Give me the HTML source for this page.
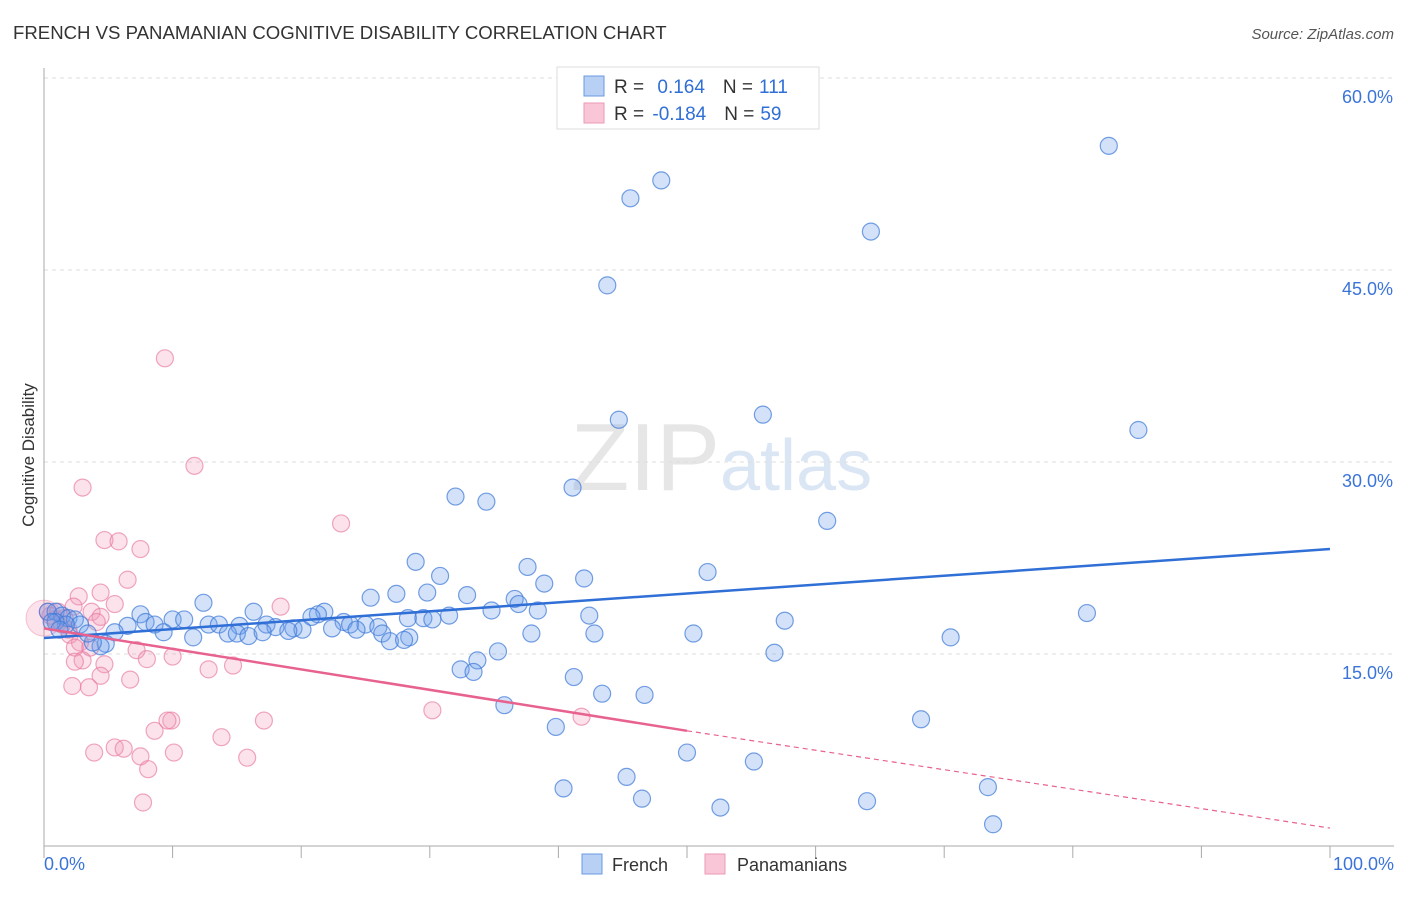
<!DOCTYPE html>
<html><head><meta charset="utf-8"><style>
body{margin:0;background:#fff;font-family:"Liberation Sans",sans-serif;}
svg text{font-family:"Liberation Sans",sans-serif;}
</style></head><body>
<svg id="chart" width="1406" height="892">
<text x="13" y="39" font-size="18.6" fill="#333">FRENCH VS PANAMANIAN COGNITIVE DISABILITY CORRELATION CHART</text>
<text x="1394" y="39" font-size="15" fill="#555" font-style="italic" text-anchor="end">Source: ZipAtlas.com</text>
<text x="720" y="490" font-size="96" fill="#e6e6e6" text-anchor="end" font-family="Liberation Serif">ZIP</text>
<text x="720" y="490" font-size="72" fill="#dbe6f5">atlas</text>
<g id="grid"></g>
<g id="axes"></g>
<g id="pts"></g>
<g id="trend"></g>
<text transform="translate(34,455) rotate(-90)" font-size="17" fill="#333" text-anchor="middle">Cognitive Disability</text>
<g>
<rect x="557" y="67" width="262" height="62" fill="#fff" stroke="#ddd"/>
<rect x="584" y="76" width="20" height="20" fill="#b8d0f3" stroke="#6a9ae0"/>
<rect x="584" y="103" width="20" height="20" fill="#f8c6d6" stroke="#ec9ab6"/>
<text x="614" y="93" font-size="19" fill="#333">R = <tspan fill="#2f6fd6" dx="8">0.164</tspan><tspan dx="18" fill="#333">N =</tspan><tspan dx="6" fill="#2f6fd6">111</tspan></text>
<text x="614" y="120" font-size="19" fill="#333">R = <tspan fill="#2f6fd6" dx="3">-0.184</tspan><tspan dx="18" fill="#333">N =</tspan><tspan dx="6" fill="#2f6fd6">59</tspan></text>
</g>
<g>
<rect x="582" y="854" width="20" height="20" fill="#b8d0f3" stroke="#6a9ae0"/>
<text x="612" y="871" font-size="18" fill="#333">French</text>
<rect x="705" y="854" width="20" height="20" fill="#f8c6d6" stroke="#ec9ab6"/>
<text x="737" y="871" font-size="18" fill="#333">Panamanians</text>
</g>
</svg>
<script>
const yTicks=[15,30,45,60];
const yTickLabels=["15.0%","30.0%","45.0%","60.0%"];
const xLabels=["0.0%","100.0%"];
const frenchX=[82.8,48.0,45.6,64.3,43.8,55.9,44.7,85.1,41.1,32.0,34.4,60.9,28.9,37.6,51.6,30.8,42.0,38.9,27.4,29.8,32.9,25.4,36.6,12.4,36.9,34.8,38.4,81.1,21.8,21.3,42.4,16.3,7.5,28.3,29.5,31.5,30.2,20.8,57.6,10.0,10.9,7.9,8.6,12.8,13.6,23.3,23.8,25.0,15.2,17.3,18.0,19.4,20.1,22.4,24.3,26.0,19.0,6.5,5.5,9.3,11.6,14.3,15.0,15.9,17.0,26.3,37.9,42.8,50.5,70.5,28.4,26.9,28.0,4.8,4.4,3.8,0.3,0.9,1.4,1.9,2.4,2.8,3.4,1.7,0.9,35.3,33.7,32.4,33.4,56.8,41.2,43.4,46.7,35.8,39.8,68.2,50.0,55.2,45.3,40.4,46.5,73.4,64.0,52.6,73.8,0.6,1.2];
const frenchY=[54.7,52.0,50.6,48.0,43.8,33.7,33.3,32.5,28.0,27.3,26.9,25.4,22.2,21.8,21.4,21.1,20.9,20.5,19.7,19.8,19.6,19.4,19.3,19.0,18.9,18.4,18.4,18.2,18.3,18.1,18.0,18.3,18.1,17.8,17.8,18.0,17.7,17.9,17.6,17.7,17.7,17.5,17.3,17.3,17.3,17.5,17.3,17.3,17.2,17.3,17.1,17.0,16.9,17.0,16.9,17.1,16.8,17.2,16.7,16.7,16.3,16.6,16.6,16.4,16.7,16.6,16.6,16.6,16.6,16.3,16.3,16.0,16.1,15.8,15.6,15.9,18.3,18.3,18.0,17.8,17.7,17.3,16.6,17.3,17.5,15.2,14.5,13.8,13.6,15.1,13.2,11.9,11.8,11.0,9.3,9.9,7.3,6.6,5.4,4.5,3.7,4.6,3.5,3.0,1.7,17.5,16.9];
const panX=[9.4,11.7,3.0,23.1,4.7,5.8,7.5,6.5,4.4,2.7,2.3,5.5,18.4,3.7,4.4,4.1,0.5,0.9,1.4,1.9,2.0,2.8,2.4,3.6,7.2,3.0,4.7,2.4,8.0,10.0,12.8,14.7,4.4,6.7,2.2,3.5,30.2,17.1,9.9,9.6,41.8,8.6,13.8,5.5,3.9,6.2,7.5,10.1,15.8,8.1,7.7,0.3,1.1,1.6];
const panY=[38.1,29.7,28.0,25.2,23.9,23.8,23.2,20.8,19.8,19.5,18.7,18.9,18.7,18.3,17.9,17.5,18.0,17.7,17.3,16.9,16.5,15.9,15.5,15.5,15.3,14.5,14.2,14.4,14.6,14.8,13.8,14.1,13.3,13.0,12.5,12.4,10.6,9.8,9.8,9.8,10.1,9.0,8.5,7.7,7.3,7.6,7.0,7.3,6.9,6.0,3.4,18.3,18.3,17.8];
const frenchTrend=[16.25,23.2];
const panTrend=[17.0,9.0,1.4];
const NS="http://www.w3.org/2000/svg";
const X0=44,X1=1330,Y0=846,PY=12.8;
const sx=v=>X0+(X1-X0)*v/100, sy=v=>Y0-PY*v;
function mk(tag,attrs,parent){const e=document.createElementNS(NS,tag);for(const k in attrs)e.setAttribute(k,attrs[k]);parent.appendChild(e);return e;}
const grid=document.getElementById('grid'),axes=document.getElementById('axes'),pts=document.getElementById('pts'),tr=document.getElementById('trend');
yTicks.forEach((t,i)=>{
 const l=mk('line',{x1:X0,x2:1394,y1:sy(t),y2:sy(t),stroke:'#ddd','stroke-dasharray':'4,4'},grid);
 
 
 const tx=mk('text',{x:1393,y:sy(t)+25,'font-size':18,fill:'#3b74d9','text-anchor':'end'},axes);
 tx.textContent=yTickLabels[i];
 
 
});
const ax=mk('line',{x1:X0,x2:X0,y1:68,y2:Y0,stroke:'#aaa'},axes);


const bx=mk('line',{x1:X0,x2:1394,y1:Y0,y2:Y0,stroke:'#aaa'},axes);


for(let i=0;i<=10;i++){const t=mk('line',{x1:sx(i*10),x2:sx(i*10),y1:Y0,y2:Y0+12,stroke:'#aaa'},axes);
 
 }
[[0,'start',44],[100,'end',1394]].forEach((d,i)=>{const t=mk('text',{x:d[2],y:870,'font-size':18,fill:'#3b74d9','text-anchor':d[1]},axes);t.textContent=xLabels[i];
 
 });
const big=mk('circle',{cx:sx(0),cy:sy(17.8),r:18,fill:'rgba(240,140,175,0.25)',stroke:'rgba(232,120,160,0.4)'},pts);


panX.forEach((x,i)=>{const c=mk('circle',{cx:sx(x),cy:sy(panY[i]),r:8.5,fill:'rgba(242,150,182,0.28)',stroke:'rgba(232,120,160,0.65)','stroke-width':1.2},pts);
 
 });
frenchX.forEach((x,i)=>{const c=mk('circle',{cx:sx(x),cy:sy(frenchY[i]),r:8.5,fill:'rgba(110,160,235,0.3)',stroke:'rgba(60,120,215,0.7)','stroke-width':1.2},pts);
 
 });
const fl=mk('line',{x1:sx(0),y1:sy(frenchTrend[0]),x2:sx(100),y2:sy(frenchTrend[1]),stroke:'#2f6fd6','stroke-width':2.5},tr);


const pl=mk('line',{x1:sx(0),y1:sy(panTrend[0]),x2:sx(50),y2:sy(panTrend[1]),stroke:'#e8628f','stroke-width':2.5},tr);


const pd=mk('line',{x1:sx(50),y1:sy(panTrend[1]),x2:sx(100),y2:sy(panTrend[2]),stroke:'#e8628f','stroke-width':1.2,'stroke-dasharray':'5,4'},tr);


</script>
</body></html>
